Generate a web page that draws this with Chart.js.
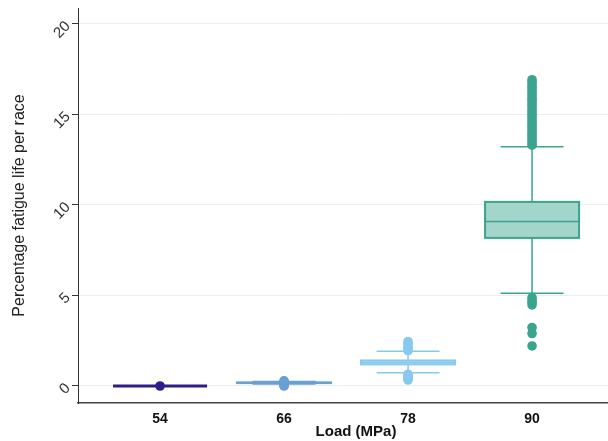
<!DOCTYPE html>
<html>
<head>
<meta charset="utf-8">
<script src="https://cdn.jsdelivr.net/npm/chart.js@4.4.0/dist/chart.umd.min.js"></script>
<style>
    html, body { margin: 0; padding: 0; background: #fff; }
</style>
</head>
<body>
<canvas id="fatigueChart" width="608" height="441"></canvas>
<script>
// ── Datos ────────────────────────────────────────────────────────
const loads = [54, 66, 78, 90];
const whiskerLow = [0, 0.11, 0.73, 5.12];
const q1 = [0, 0.16, 1.19, 8.18];
const median = [0, 0.18, 1.30, 9.08];
const q3 = [0, 0.20, 1.41, 10.17];
const whiskerHigh = [0, 0.25, 1.92, 13.22];

const outliers54 = [0];
const outliers66 = [0.0, 0.03, 0.06, 0.09, 0.27, 0.28];
const outliers78 = [0.33, 0.41, 0.49, 0.57, 0.65, 1.95, 2.05, 2.16, 2.26, 2.36, 2.45];
const outliers90 = [
    2.21, 2.9, 3.23, 4.48, 4.62, 4.75, 4.88,
    13.3, 13.42, 13.55, 13.7, 13.84, 13.97, 14.1, 14.25, 14.38, 14.5,
    14.66, 14.8, 14.93, 15.08, 15.2, 15.35, 15.5, 15.63, 15.78, 15.9,
    16.05, 16.2, 16.35, 16.5, 16.62, 16.78, 16.92
];

const yTicks = [0, 5, 10, 15, 20];
const xTitle = 'Load (MPa)';

// Colores por carga
const lineColors = ['#2d1e88', '#6a9fd4', '#88c9ee', '#3aa48f'];
const fillColors = ['#2d1e88', '#6a9fd4', '#b4def5', '#a3d5cb'];

const BOX_HALF = 47;   // px
const CAP_HALF = 31.5; // px
const FONT = 'Liberation Sans, Arial, sans-serif';

// ── Plugin: cajas y bigotes dibujados con las escalas ────────────
const boxPlugin = {
    id: 'boxes',
    // El eje X reserva unos px a la derecha para su última etiqueta; el original llega al borde
    afterLayout(chart) {
        const area = chart.chartArea;
        const x = chart.scales.x;
        area.right = chart.width;
        area.width = area.right - area.left;
        x.right = chart.width;
        x.width = x.right - x.left;
        x.configure();
    },
    beforeDatasetsDraw(chart) {
        const { ctx, scales: { x, y } } = chart;
        ctx.save();
        loads.forEach((load, i) => {
            const cx = x.getPixelForValue(load);
            const yLo = y.getPixelForValue(whiskerLow[i]);
            const yHi = y.getPixelForValue(whiskerHigh[i]);
            const yQ1 = y.getPixelForValue(q1[i]);
            const yQ3 = y.getPixelForValue(q3[i]);
            const yMed = y.getPixelForValue(median[i]);

            ctx.strokeStyle = lineColors[i];
            ctx.lineWidth = 1.5;
            ctx.beginPath();
            ctx.moveTo(cx, yLo); ctx.lineTo(cx, yQ1);
            ctx.moveTo(cx, yQ3); ctx.lineTo(cx, yHi);
            ctx.moveTo(cx - CAP_HALF, yLo); ctx.lineTo(cx + CAP_HALF, yLo);
            ctx.moveTo(cx - CAP_HALF, yHi); ctx.lineTo(cx + CAP_HALF, yHi);
            ctx.stroke();

            ctx.fillStyle = fillColors[i];
            ctx.fillRect(cx - BOX_HALF, yQ3, BOX_HALF * 2, yQ1 - yQ3);
            ctx.lineWidth = i === 0 ? 3 : 2;
            ctx.strokeRect(cx - BOX_HALF, yQ3, BOX_HALF * 2, yQ1 - yQ3);

            ctx.lineWidth = 1.5;
            ctx.beginPath();
            ctx.moveTo(cx - BOX_HALF, yMed); ctx.lineTo(cx + BOX_HALF, yMed);
            ctx.stroke();
        });
        ctx.restore();
    },
    // Título del eje X, algo desplazado a la derecha como en el original
    afterDraw(chart) {
        const { ctx, chartArea } = chart;
        ctx.save();
        ctx.font = 'bold 15px ' + FONT;
        ctx.fillStyle = '#111';
        ctx.textAlign = 'center';
        ctx.textBaseline = 'middle';
        ctx.fillText(xTitle, (chartArea.left + chartArea.right) / 2 + 13, chartArea.bottom + 29);
        ctx.restore();
    }
};

const outlierSets = [outliers54, outliers66, outliers78, outliers90];

new Chart(document.getElementById('fatigueChart').getContext('2d'), {
    type: 'scatter',
    data: {
        datasets: outlierSets.map((vals, i) => ({
            data: vals.map(v => ({ x: loads[i], y: v })),
            backgroundColor: lineColors[i],
            borderWidth: 0,
            pointRadius: 4.8,
            pointHoverRadius: 4.8
        }))
    },
    options: {
        responsive: false,
        animation: false,
        events: [],
        layout: { padding: { top: 8, right: 0, left: 0, bottom: 0 } },
        plugins: { legend: { display: false }, tooltip: { enabled: false } },
        scales: {
            x: {
                type: 'linear',
                min: 46.06,
                max: 97.35,
                afterBuildTicks: s => { s.ticks = loads.map(v => ({ value: v })); },
                afterFit: s => { s.height = 38; s.paddingLeft = 0; s.paddingRight = 0; },
                grid: { display: false, drawTicks: false },
                border: { color: '#444', width: 1.5 },
                ticks: {
                    padding: 8,
                    color: '#111',
                    font: { family: FONT, size: 14, weight: 'bold' },
                    callback: v => String(v)
                }
            },
            y: {
                min: -0.94,
                max: 20.88,
                afterBuildTicks: s => { s.ticks = yTicks.map(v => ({ value: v })); },
                afterFit: s => { s.width = 78; s.paddingTop = 0; s.paddingBottom = 0; },
                grid: { color: '#e6eff1', lineWidth: 1, drawTicks: true, tickLength: 6, tickColor: '#333' },
                border: { color: '#333', width: 1 },
                ticks: {
                    padding: 4,
                    minRotation: 45,
                    maxRotation: 45,
                    color: '#333',
                    font: { family: FONT, size: 15 }
                },
                title: {
                    display: true,
                    text: 'Percentage fatigue life per race',
                    color: '#222',
                    padding: { top: 10, bottom: 0 },
                    font: { family: FONT, size: 16 }
                }
            }
        }
    },
    plugins: [boxPlugin]
});
</script>
</body>
</html>
